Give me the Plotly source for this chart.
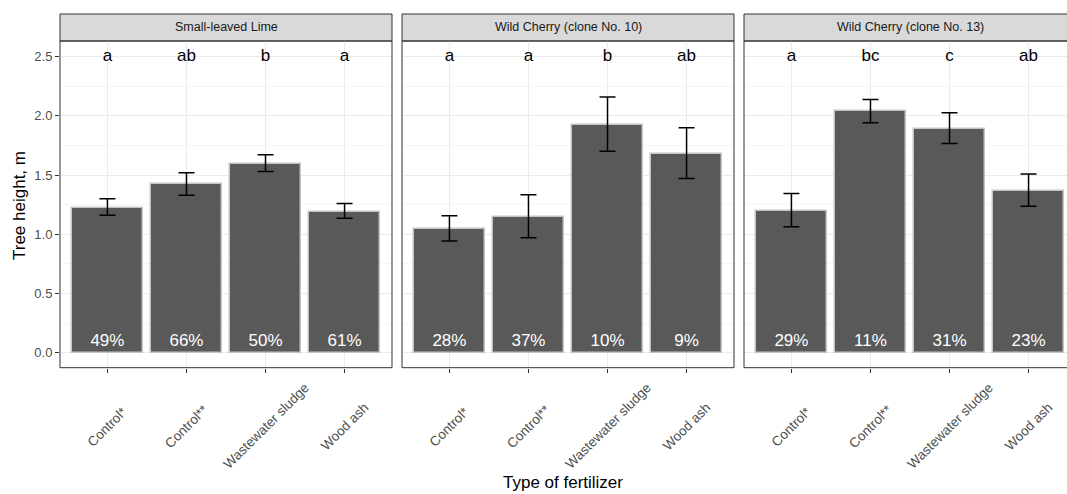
import plotly.graph_objects as go

species = ["Small-leaved Lime", "Wild Cherry (clone No. 10)", "Wild Cherry (clone No. 13)"]
fertilizers = ["Control*", "Control**", "Wastewater sludge", "Wood ash"]

lime_mean = [1.22, 1.42, 1.59, 1.19]
lime_upper = [1.30, 1.52, 1.67, 1.26]
lime_lower = [1.16, 1.33, 1.53, 1.135]
lime_letters = ["a", "ab", "b", "a"]
lime_pct = ["49%", "66%", "50%", "61%"]

cherry10_mean = [1.045, 1.15, 1.92, 1.68]
cherry10_upper = [1.157, 1.334, 2.157, 1.898]
cherry10_lower = [0.943, 0.971, 1.701, 1.470]
cherry10_letters = ["a", "a", "b", "ab"]
cherry10_pct = ["28%", "37%", "10%", "9%"]

cherry13_mean = [1.197, 2.041, 1.892, 1.366]
cherry13_upper = [1.343, 2.137, 2.025, 1.509]
cherry13_lower = [1.064, 1.940, 1.765, 1.236]
cherry13_letters = ["a", "bc", "c", "ab"]
cherry13_pct = ["29%", "11%", "31%", "23%"]

letter_y = 2.5
pct_y = 0.09

W, H = 1067, 494
FONT = "Liberation Sans, Arial, sans-serif"

def px_x(p):
    return p / W

def px_y(p):
    return 1 - p / H

panels = [
    (lime_mean, lime_upper, lime_lower, lime_letters, lime_pct),
    (cherry10_mean, cherry10_upper, cherry10_lower, cherry10_letters, cherry10_pct),
    (cherry13_mean, cherry13_upper, cherry13_lower, cherry13_letters, cherry13_pct),
]

x_pos = [1, 2, 3, 4]
unit = 332 / 4.2
panel_px = [(60, 392), (402, 734), (744, 1067)]
plot_top, plot_bot = 41, 367.7
strip_top = 14
ticklabel_center_y = 426

fig = go.Figure()
for i, (mean, up, lo, lets, pcts) in enumerate(panels):
    xa = "x" if i == 0 else f"x{i+1}"
    ya = "y" if i == 0 else f"y{i+1}"
    fig.add_trace(go.Bar(
        x=x_pos, y=mean, width=0.9, xaxis=xa, yaxis=ya,
        marker=dict(color="#595959", line=dict(color="#c4c4c4", width=1.5)),
        error_y=dict(type="data", symmetric=False,
                     array=[u - m for u, m in zip(up, mean)],
                     arrayminus=[m - l for m, l in zip(mean, lo)],
                     color="black", thickness=1.5, width=8),
        showlegend=False, hoverinfo="skip"))
    fig.add_trace(go.Scatter(
        x=x_pos, y=[letter_y] * 4, text=lets, mode="text", xaxis=xa, yaxis=ya,
        textfont=dict(family=FONT, size=17, color="black"),
        textposition="middle center", showlegend=False, hoverinfo="skip"))
    fig.add_trace(go.Scatter(
        x=x_pos, y=[pct_y] * 4, text=pcts, mode="text", xaxis=xa, yaxis=ya,
        textfont=dict(family=FONT, size=17, color="white"),
        textposition="middle center", showlegend=False, hoverinfo="skip"))

layout = dict(
    width=W, height=H, margin=dict(l=0, r=0, t=0, b=0),
    paper_bgcolor="white", plot_bgcolor="white",
    bargap=0, font=dict(family=FONT),
)

shapes = []
annotations = []
for i, (x0p, x1p) in enumerate(panel_px):
    sfx = "" if i == 0 else str(i + 1)
    xmax = 0.4 + (x1p - x0p) / unit
    layout["xaxis" + sfx] = dict(
        domain=[px_x(x0p), px_x(x1p)], range=[0.4, xmax],
        tickvals=x_pos, showticklabels=False,
        ticks="outside", ticklen=4, tickcolor="#333333", tickwidth=1,
        showgrid=True, gridcolor="#ebebeb", gridwidth=1,
        zeroline=False, showline=False, fixedrange=True,
        anchor="y" + sfx,
    )
    yax = dict(
        domain=[px_y(plot_bot), px_y(plot_top)], range=[-0.125, 2.63],
        tickvals=[0, 0.5, 1.0, 1.5, 2.0, 2.5],
        ticktext=["0.0", "0.5", "1.0", "1.5", "2.0", "2.5"],
        showgrid=True, gridcolor="#ebebeb", gridwidth=1,
        minor=dict(tickvals=[0.25, 0.75, 1.25, 1.75, 2.25], showgrid=True,
                   gridcolor="#f5f5f5", gridwidth=0.8),
        zeroline=False, showline=False, fixedrange=True,
        anchor="x" + sfx,
    )
    if i == 0:
        yax.update(ticks="outside", ticklen=4, tickcolor="#333333", tickwidth=1,
                   tickfont=dict(family=FONT, size=13, color="#4d4d4d"))
    else:
        yax.update(showticklabels=False, ticks="", matches="y")
    layout["yaxis" + sfx] = yax

    # rotated, centred category labels (as in the reference)
    for xv, lab in zip(x_pos, fertilizers):
        annotations.append(dict(text=lab, xref="x" + sfx, yref="paper",
                                x=xv, y=px_y(ticklabel_center_y), textangle=-45,
                                xanchor="center", yanchor="middle", showarrow=False,
                                font=dict(family=FONT, size=13.5, color="#4d4d4d")))

    # panel border
    line = dict(color="#333333", width=1)
    if i < 2:
        shapes.append(dict(type="rect", xref="paper", yref="paper",
                           x0=px_x(x0p), x1=px_x(x1p), y0=px_y(plot_bot), y1=px_y(plot_top),
                           line=line, fillcolor="rgba(0,0,0,0)", layer="above"))
    else:
        for (a, b, c, d) in [(x0p, plot_bot, x0p, plot_top),
                             (x0p, plot_bot, x1p, plot_bot),
                             (x0p, plot_top, x1p, plot_top)]:
            shapes.append(dict(type="line", xref="paper", yref="paper",
                               x0=px_x(a), y0=px_y(b), x1=px_x(c), y1=px_y(d),
                               line=line, layer="above"))
    # strip
    shapes.append(dict(type="rect", xref="paper", yref="paper",
                       x0=px_x(x0p), x1=px_x(x1p) if i < 2 else 1.002,
                       y0=px_y(plot_top), y1=px_y(strip_top),
                       line=dict(color="#333333", width=1), fillcolor="#d9d9d9", layer="below"))
    full_right = x0p + 332
    annotations.append(dict(text=species[i], xref="paper", yref="paper",
                            x=px_x((x0p + full_right) / 2), y=px_y((strip_top + plot_top) / 2),
                            xanchor="center", yanchor="middle", showarrow=False,
                            font=dict(family=FONT, size=12.5, color="#1a1a1a")))

annotations.append(dict(text="Tree height, m", xref="paper", yref="paper",
                        x=px_x(19), y=px_y(206), textangle=-90,
                        xanchor="center", yanchor="middle", showarrow=False,
                        font=dict(family=FONT, size=17, color="black")))
annotations.append(dict(text="Type of fertilizer", xref="paper", yref="paper",
                        x=px_x(563), y=px_y(482),
                        xanchor="center", yanchor="middle", showarrow=False,
                        font=dict(family=FONT, size=17, color="black")))

layout["shapes"] = shapes
layout["annotations"] = annotations
fig.update_layout(**layout)

fig.write_html("out.html", post_script="document.body.style.margin='0';",
               config={"displayModeBar": False})
